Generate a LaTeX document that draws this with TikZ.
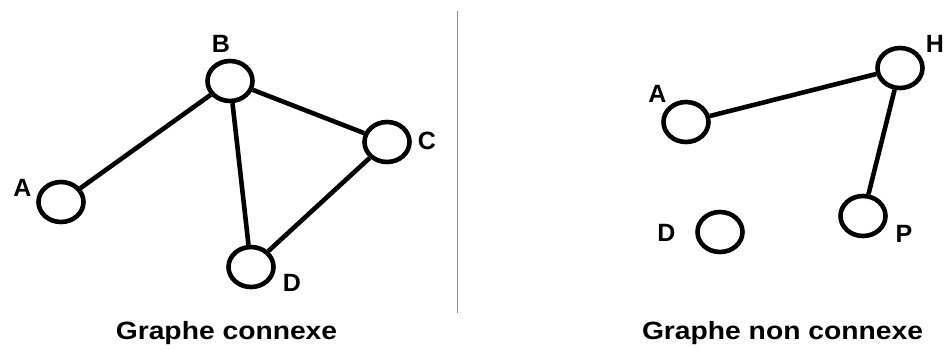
\documentclass[tikz,border=0pt]{standalone}
\usepackage{fontspec}
\setmainfont{Liberation Sans}
\usetikzlibrary{shapes.geometric}
\begin{document}
\begin{tikzpicture}[x=1pt,y=-1pt,
  vertex/.style={ellipse,draw,line width=4.6pt,minimum width=45pt,minimum height=40pt,inner sep=0pt},
  edge/.style={line width=4.6pt},
  vlabel/.style={inner sep=0pt,font=\bfseries\fontsize{25}{25}\selectfont},
  caption/.style={inner sep=0pt,anchor=base,font=\bfseries\fontsize{25}{25}\selectfont},
  divider/.style={line width=1.5pt,draw=black!45}]
\useasboundingbox (0,0) rectangle (944,349);

% connected graph
\node[vertex] (A1) at (61,202) {};
\node[vertex] (B)  at (230,81) {};
\node[vertex] (C)  at (387,142) {};
\node[vertex] (D1) at (251,267) {};
\draw[edge] (A1) -- (B);
\draw[edge] (B) -- (C);
\draw[edge] (B) -- (D1);
\draw[edge] (C) -- (D1);
\node[vlabel] (lA1) at (22.5,188) {A};
\node[vlabel] (lB)  at (221,44) {B};
\node[vlabel] (lC)  at (427,140.5) {C};
\node[vlabel] (lD1) at (292,283) {D};

% separator
\coordinate (top) at (457.5,11);
\coordinate (bot) at (457.5,313);
\draw[divider] (top) -- (bot);

% disconnected graph
\node[vertex] (A2) at (686,122) {};
\node[vertex] (H)  at (900,68) {};
\node[vertex] (P)  at (863,216) {};
\node[vertex] (D2) at (720,232) {};
\draw[edge] (A2) -- (H);
\draw[edge] (H) -- (P);
\node[vlabel] (lA2) at (657.5,94) {A};
\node[vlabel] (lH)  at (935,44) {H};
\node[vlabel] (lP)  at (904,234) {P};
\node[vlabel] (lD2) at (666.5,233) {D};

% captions
\node[caption] (cap1) at (226.5,339.5) {\scalebox{1.13}[1]{Graphe connexe}};
\node[caption] (cap2) at (782.5,339.5) {\scalebox{1.13}[1]{Graphe non connexe}};
\end{tikzpicture}
\end{document}
